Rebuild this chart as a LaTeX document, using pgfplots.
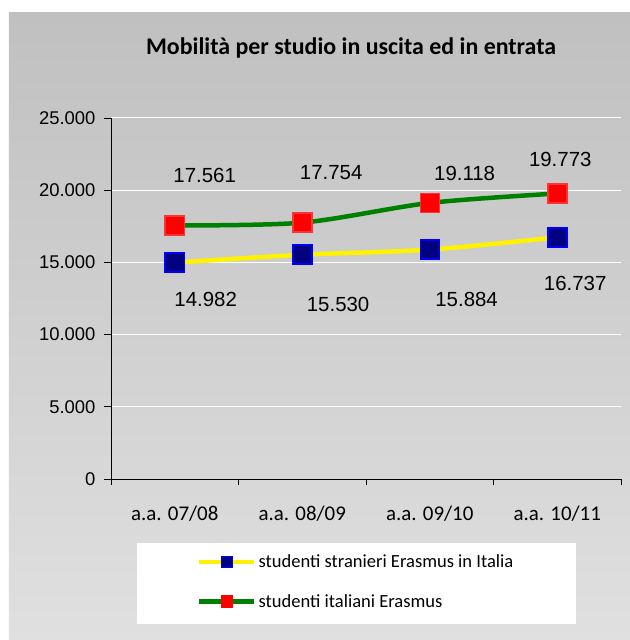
\documentclass[border=0pt]{standalone}
\usepackage{fontspec}
\setmainfont{Liberation Sans}
\newfontfamily\calibri{Carlito}
\usepackage{pgfplots}
\pgfplotsset{compat=1.18}
\usepackage{pgfplotstable}
\definecolor{bgtop}{gray}{0.753}
\definecolor{bgbot}{gray}{0.878}
\definecolor{navyb}{RGB}{0,0,128}
\definecolor{grn}{RGB}{0,128,0}

\pgfplotstableread{
x y dx dy
0 14982 31 -37
1 15530 36 -50
2 15884 37 -50
3 16737 18 -46
}\stranieri
\pgfplotstableread{
x y dx dy
0 17561 30 50
1 17754 29 50
2 19118 35 30
3 19773 3 34.5
}\italiani

\begin{document}
\begin{tikzpicture}[x=1bp,y=1bp]
\useasboundingbox (-111,-161) rectangle (519,479);
\fill[white] (-111,-161) rectangle (519,479);
\shade[top color=bgtop, bottom color=bgbot] (-102,-161) rectangle (519,466);
\fill[white] (26,-145) rectangle (465,-64);
\node[font=\calibri\bfseries\fontsize{24}{28}\selectfont, anchor=base] at (240,424) {Mobilità per studio in uscita ed in entrata};
\begin{axis}[
 at={(0,0)}, anchor=south west, scale only axis, width=510bp, height=361bp,
 xmin=-0.5, xmax=3.5, ymin=0, ymax=25000, clip=false,
 axis x line*=bottom, axis y line*=left,
 axis line style={black, line width=0.8pt},
 xtick={0,1,2,3}, xticklabels={a.a. 07/08, a.a. 08/09, a.a. 09/10, a.a. 10/11},
 major x tick style={draw=none},
 minor xtick={-0.5,0.5,1.5,2.5,3.5},
 minor x tick style={black, line width=0.8pt},
 tick align=outside, major tick length=7bp, minor tick length=6bp,
 ytick={0,5000,...,25000},
 y tick style={black, line width=0.8pt},
 ymajorgrids, major grid style={white, line width=1pt},
 scaled y ticks=false,
 yticklabel style={font=\fontsize{18.5}{22}\selectfont, xshift=-5bp, /pgf/number format/.cd, 1000 sep={.}, fixed, assume math mode=true},
 xticklabel style={font=\calibri\fontsize{21}{24}\selectfont, yshift=-16bp},
 legend image code/.code={\draw[#1, mark=none] (0bp,0bp) -- (55bp,0bp); \draw[#1] plot coordinates {(27.5bp,0bp)};},
 legend cell align=left,
 legend style={draw=none, fill=none, at={(0.1686,-0.285)}, anchor=west, inner sep=0pt,
   font=\calibri\fontsize{18.6}{21}\selectfont, row sep=25bp,
   nodes={inner sep=0pt}, column sep=2bp},
 every node near coord/.append style={font=\fontsize{20.5}{24}\selectfont, anchor=center, xshift=\dx, yshift=\dy, text=black, /pgf/number format/assume math mode=true},
 nodes near coords={\pgfmathprintnumber[1000 sep={.}]{\pgfplotspointmeta}},
]
\addplot[yellow, line width=4.5bp, smooth, tension=0.5, mark=square*, mark size=9.5bp,
  mark options={solid, fill=navyb, draw=blue, line width=1.5bp},
  point meta=explicit, visualization depends on={\thisrow{dx}\as\dx},
  visualization depends on={\thisrow{dy}\as\dy}, forget plot]
  table[x=x, y=y, meta=y] {\stranieri};
\addplot[grn, line width=4.5bp, smooth, tension=0.5, mark=square*, mark size=9.5bp,
  mark options={solid, fill=red, draw=red!80!white, line width=1.5bp},
  point meta=explicit, visualization depends on={\thisrow{dx}\as\dx},
  visualization depends on={\thisrow{dy}\as\dy}, forget plot]
  table[x=x, y=y, meta=y] {\italiani};
\addlegendimage{yellow, line width=4.5bp, mark=square*, mark size=5.5bp, mark options={solid, fill=navyb, draw=blue, line width=1.2bp}}
\addlegendentry{studenti stranieri Erasmus in Italia}
\addlegendimage{grn, line width=4.5bp, mark=square*, mark size=5.5bp, mark options={solid, fill=red, draw=red, line width=1.2bp}}
\addlegendentry{studenti italiani Erasmus}
\end{axis}
\end{tikzpicture}
\end{document}
